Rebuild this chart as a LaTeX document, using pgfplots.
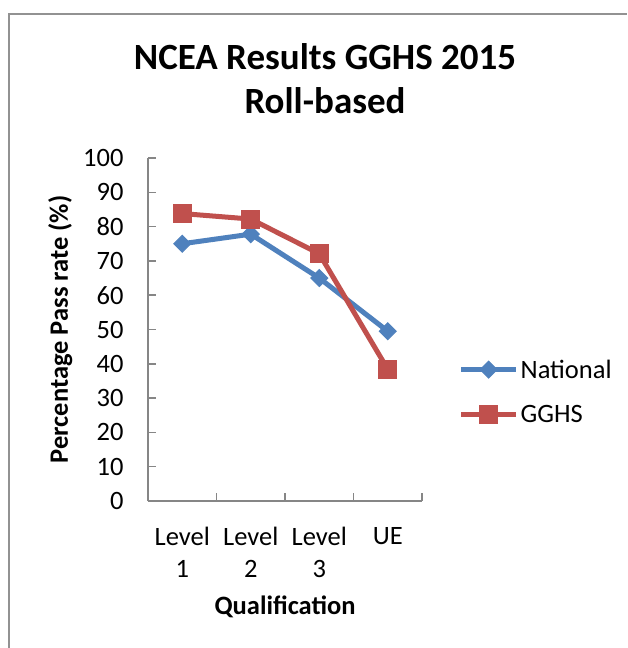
\documentclass[border=0pt]{standalone}
\usepackage{fontspec}
\setmainfont{Carlito}
\usepackage{pgfplots}
\pgfplotsset{compat=1.18}
\definecolor{natblue}{HTML}{4F81BD}
\definecolor{ggred}{HTML}{C0504D}
\definecolor{axgray}{HTML}{868686}
\newcommand\tf{\fontsize{26.5}{32}\selectfont}
\begin{document}
\begin{tikzpicture}[x=1pt,y=1pt]
\fill[white] (0,0) rectangle (627,-648);
\path[use as bounding box] (0,0) rectangle (627,-648);
\draw[axgray!90, line width=2pt] (8.5,-648) -- (8.5,-13.5) -- (627,-13.5);
\begin{axis}[
  at={(148pt,-501pt)}, anchor=south west,
  scale only axis, width=274pt, height=343pt,
  xmin=-0.5, xmax=3.5, ymin=0, ymax=100,
  axis x line*=bottom, axis y line*=left,
  axis line style={axgray, line width=1.5pt, -},
  tick style={axgray, line width=1.5pt},
  tick align=inside, major tick length=8pt,
  ytick={0,10,...,100},
  xtick={0.5,1.5,2.5,3.5}, xticklabels={},
  extra x ticks={0,1,2,3},
  extra x tick labels={Level\\1,Level\\2,Level\\3,UE},
  extra x tick style={major tick length=0pt, tick style={draw=none}},
  x tick label style={align=center, font=\tf, anchor=north},
  y tick label style={font=\tf},
  xticklabel shift=23pt, yticklabel shift=21pt,
  /pgf/number format/assume math mode=true,
  title={NCEA Results GGHS 2015\\Roll-based},
  title style={font=\fontsize{37}{44}\selectfont\bfseries, align=center,
    at={(axis description cs:0.646,1.3265)}, anchor=north},
  xlabel={Qualification},
  xlabel style={font=\tf\bfseries, at={(axis description cs:0.5,-0.332)}, anchor=base},
  ylabel={Percentage Pass rate (\%)},
  ylabel style={font=\tf\bfseries, at={(axis description cs:-0.292,0.5)}, anchor=base},
  legend style={at={(axis description cs:1.133,0.318)}, anchor=west,
    draw=none, fill=none, font=\tf, row sep=22pt, inner sep=0pt,
    nodes={inner sep=2pt}},
  legend cell align=left,
  legend image code/.code={\draw[mark repeat=2,mark phase=2] plot coordinates {(0pt,0pt)(27.5pt,0pt)(55pt,0pt)};},
  clip=false,
]
\addplot[natblue, line width=5pt, mark=square*, mark size=6pt,
  mark options={solid, rotate=45, line width=1pt, fill=natblue}]
  coordinates {(0,75.0) (1,77.8) (2,65.0) (3,49.5)};
\addlegendentry{National}
\addplot[ggred, line width=5pt, mark=square*, mark size=9pt,
  mark options={solid, line width=1pt, fill=ggred}]
  coordinates {(0,83.8) (1,82.2) (2,72.1) (3,38.4)};
\addlegendentry{GGHS}
\end{axis}
\end{tikzpicture}
\end{document}
